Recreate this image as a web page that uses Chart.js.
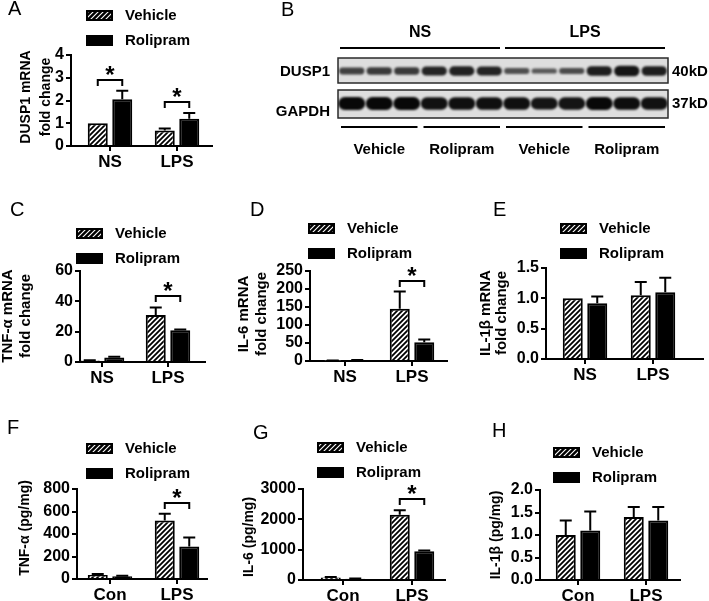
<!DOCTYPE html>
<html>
<head>
<meta charset="utf-8">
<script src="https://cdn.jsdelivr.net/npm/chart.js@4.4.1/dist/chart.umd.min.js"></script>
<style>
  body { margin: 0; background: #fff; }
  #wrap { position: relative; width: 709px; height: 601px; overflow: hidden; background: #fff; }
  canvas { position: absolute; }
</style>
</head>
<body>
<div id="wrap">
  <canvas id="chartA" width="240" height="190" style="left:0px;top:0px"></canvas>
  <canvas id="chartB" width="469" height="190" style="left:240px;top:0px"></canvas>
  <canvas id="chartC" width="240" height="210" style="left:0px;top:190px"></canvas>
  <canvas id="chartD" width="242" height="210" style="left:228px;top:190px"></canvas>
  <canvas id="chartE" width="239" height="210" style="left:470px;top:190px"></canvas>
  <canvas id="chartF" width="240" height="201" style="left:0px;top:400px"></canvas>
  <canvas id="chartG" width="230" height="201" style="left:240px;top:400px"></canvas>
  <canvas id="chartH" width="239" height="201" style="left:470px;top:400px"></canvas>
</div>
<script>
const FONT = '"Liberation Sans", Arial, sans-serif';
Chart.defaults.font.family = FONT;
Chart.defaults.color = "#000";

// ---- data ----
const seriesNames = ["Vehicle", "Rolipram"];
const mrnaGroups = ["NS", "LPS"];
const tissueGroups = ["Con", "LPS"];

// A: DUSP1 mRNA fold change
const dusp1Vehicle = [1.0, 0.68];
const dusp1VehicleErr = [0, 0.09];
const dusp1Rolipram = [2.05, 1.2];
const dusp1RolipramErr = [0.38, 0.25];
const dusp1Ticks = [0, 1, 2, 3, 4];
const dusp1Sig = [[0, 2.9], [1, 1.93]];

// B: western blot, relative band intensity per lane
const blotConditions = ["NS", "LPS"];
const blotTreatments = ["Vehicle", "Rolipram"];
const blotProteins = ["DUSP1", "GAPDH"];
const blotWeights = ["40kD", "37kD"];
const dusp1Bands = [0.55, 0.6, 0.6, 0.8, 0.82, 0.8, 0.42, 0.35, 0.45, 0.85, 0.92, 0.85];
const gapdhBands = [1, 1, 1, 0.96, 0.97, 0.97, 0.97, 0.94, 0.95, 1, 0.98, 0.96];

// C: TNF-a mRNA
const tnfMrnaVehicle = [1.0, 31];
const tnfMrnaVehicleErr = [0.2, 5];
const tnfMrnaRolipram = [3.0, 21];
const tnfMrnaRolipramErr = [0.5, 0.5];
const tnfMrnaTicks = [0, 20, 40, 60];
const tnfMrnaSig = [[1, 43.5]];

// D: IL-6 mRNA
const il6MrnaVehicle = [1.0, 145];
const il6MrnaVehicleErr = [0.3, 48];
const il6MrnaRolipram = [2.0, 52];
const il6MrnaRolipramErr = [0.5, 8];
const il6MrnaTicks = [0, 50, 100, 150, 200, 250];
const il6MrnaSig = [[1, 222]];

// E: IL-1b mRNA
const il1bMrnaVehicle = [1.0, 1.05];
const il1bMrnaVehicleErr = [0, 0.22];
const il1bMrnaRolipram = [0.92, 1.1];
const il1bMrnaRolipramErr = [0.11, 0.24];
const il1bMrnaTicks = [0, 0.5, 1.0, 1.5];

// F: TNF-a protein
const tnfVehicle = [35, 520];
const tnfVehicleErr = [10, 60];
const tnfRolipram = [25, 290];
const tnfRolipramErr = [5, 80];
const tnfTicks = [0, 200, 400, 600, 800];
const tnfSig = [[1, 676]];

// G: IL-6 protein
const il6Vehicle = [80, 2150];
const il6VehicleErr = [15, 150];
const il6Rolipram = [40, 950];
const il6RolipramErr = [10, 20];
const il6Ticks = [0, 1000, 2000, 3000];
const il6Sig = [[1, 2670]];

// H: IL-1b protein
const il1bVehicle = [1.0, 1.4];
const il1bVehicleErr = [0.32, 0.22];
const il1bRolipram = [1.1, 1.32];
const il1bRolipramErr = [0.42, 0.3];
const il1bTicks = [0, 0.5, 1.0, 1.5, 2.0];

// ---- helpers ----
function hatch(ctx, bg, fg, lw) {
  const s = 5;
  const c = document.createElement("canvas");
  c.width = s; c.height = s;
  const g = c.getContext("2d");
  g.fillStyle = bg;
  g.fillRect(0, 0, s, s);
  g.strokeStyle = fg;
  g.lineWidth = lw;
  g.beginPath();
  g.moveTo(-1, 1); g.lineTo(1, -1);
  g.moveTo(-1, s + 1); g.lineTo(s + 1, -1);
  g.moveTo(s - 1, s + 1); g.lineTo(s + 1, s - 1);
  g.stroke();
  return ctx.createPattern(c, "repeat");
}

// upward error bars with a cap
const errorBars = {
  id: "errorBars",
  afterDatasetsDraw(chart) {
    const ctx = chart.ctx;
    const y = chart.scales.y;
    chart.data.datasets.forEach((ds, di) => {
      if (!ds.errors) return;
      chart.getDatasetMeta(di).data.forEach((bar, i) => {
        const err = ds.errors[i];
        if (!err) return;
        const top = y.getPixelForValue(ds.data[i].y + err);
        ctx.save();
        ctx.strokeStyle = "#000";
        ctx.lineWidth = 2;
        ctx.beginPath();
        ctx.moveTo(bar.x, bar.y);
        ctx.lineTo(bar.x, top);
        ctx.moveTo(bar.x - 6, top);
        ctx.lineTo(bar.x + 6, top);
        ctx.stroke();
        ctx.restore();
      });
    });
  }
};

// panel letter, legend, axis title, significance brackets
const panelDeco = {
  id: "panelDeco",
  afterDraw(chart, args, opts) {
    const ctx = chart.ctx;
    const y = chart.scales.y;

    // brackets (canvas coords)
    (opts.sig || []).forEach(([group, level]) => {
      const x0 = chart.getDatasetMeta(0).data[group].x;
      const x1 = chart.getDatasetMeta(1).data[group].x;
      const yb = y.getPixelForValue(level);
      ctx.save();
      ctx.strokeStyle = "#000";
      ctx.lineWidth = 2;
      ctx.beginPath();
      ctx.moveTo(x0, yb + 6);
      ctx.lineTo(x0, yb);
      ctx.lineTo(x1, yb);
      ctx.lineTo(x1, yb + 6);
      ctx.stroke();
      ctx.fillStyle = "#000";
      ctx.font = "bold 24px " + FONT;
      ctx.textAlign = "center";
      ctx.textBaseline = "alphabetic";
      ctx.fillText("*", (x0 + x1) / 2, yb + 3);
      ctx.restore();
    });

    const [ox, oy] = opts.origin;
    ctx.save();
    ctx.translate(-ox, -oy);
    ctx.fillStyle = "#000";

    ctx.font = "20px " + FONT;
    ctx.textAlign = "left";
    ctx.textBaseline = "middle";
    ctx.fillText(opts.letter[0], opts.letter[1], opts.letter[2]);

    const [lx, ly] = opts.legend;
    chart.data.datasets.forEach((ds, i) => {
      const by = ly + i * 25;
      ctx.fillStyle = ds.legendFill || ds.backgroundColor;
      ctx.fillRect(lx, by, 27, 11);
      ctx.strokeStyle = "#000";
      ctx.lineWidth = 2;
      ctx.strokeRect(lx + 1, by + 1, 25, 9);
      ctx.fillStyle = "#000";
      ctx.font = "bold 15px " + FONT;
      ctx.textAlign = "left";
      ctx.textBaseline = "middle";
      ctx.fillText(ds.label, lx + 39, by + 6);
    });

    ctx.font = "bold " + opts.titleSize + "px " + FONT;
    ctx.textAlign = "center";
    ctx.textBaseline = "middle";
    opts.yTitle.forEach((line, i) => {
      ctx.save();
      ctx.translate(opts.titleX[i], opts.titleY);
      ctx.rotate(-Math.PI / 2);
      ctx.fillText(line, 0, 0);
      ctx.restore();
    });
    ctx.restore();
  }
};

function barPanel(p) {
  const canvas = document.getElementById(p.id);
  const ctx = canvas.getContext("2d");
  const [ox, oy] = p.origin;
  const [L, R, T, B] = p.area;
  const unit = p.groupX[1] - p.groupX[0];
  const axisStyle = {
    grid: { drawOnChartArea: false, drawTicks: true, tickLength: 5, color: "#000", lineWidth: 2, offset: false },
    border: { display: true, color: "#000", width: 2 }
  };
  const common = {
    borderColor: "#000",
    borderWidth: 2,
    categoryPercentage: 49 / unit,
    barPercentage: 20 / 24.5
  };

  return new Chart(ctx, {
    type: "bar",
    data: {
      datasets: [
        {
          ...common,
          label: seriesNames[0],
          data: p.vehicle.map((v, i) => ({ x: i, y: v })),
          errors: p.vehicleErr,
          backgroundColor: hatch(ctx, "#fff", "#000", 1.8),
          legendFill: hatch(ctx, "#000", "#fff", 1.1)
        },
        {
          ...common,
          label: seriesNames[1],
          data: p.rolipram.map((v, i) => ({ x: i, y: v })),
          errors: p.rolipramErr,
          backgroundColor: "#000"
        }
      ]
    },
    options: {
      responsive: false,
      animation: false,
      events: [],
      layout: {
        padding: { left: 0, top: T - oy, right: ox + canvas.width - R, bottom: 0 }
      },
      plugins: {
        legend: { display: false },
        tooltip: { enabled: false },
        panelDeco: {
          origin: p.origin,
          letter: p.letter,
          legend: p.legend,
          yTitle: p.yTitle,
          titleX: p.titleX,
          titleY: p.titleY,
          titleSize: p.titleSize,
          sig: p.sig
        }
      },
      scales: {
        x: {
          ...axisStyle,
          type: "linear",
          offset: false,
          min: -(p.groupX[0] - L) / unit,
          max: 1 + (R - p.groupX[1]) / unit,
          afterBuildTicks: s => { s.ticks = p.groups.map((g, i) => ({ value: i })); },
          afterFit: s => { s.height = oy + canvas.height - B; },
          ticks: {
            callback: v => p.groups[v],
            font: { size: 17, weight: "bold" },
            color: "#000",
            padding: 1,
            maxRotation: 0,
            autoSkip: false
          }
        },
        y: {
          ...axisStyle,
          min: p.ticks[0],
          max: p.ticks[p.ticks.length - 1],
          afterBuildTicks: s => { s.ticks = p.ticks.map(v => ({ value: v })); },
          afterFit: s => { s.width = L - ox; },
          ticks: {
            callback: v => v.toFixed(p.dec || 0),
            font: { size: 16, weight: "bold" },
            color: "#000",
            padding: 2,
            autoSkip: false
          }
        }
      }
    },
    plugins: [errorBars, panelDeco]
  });
}

// ---- bar panels ----
barPanel({
  id: "chartA", origin: [0, 0], area: [71, 212, 55, 146], groupX: [110, 177],
  groups: mrnaGroups, vehicle: dusp1Vehicle, vehicleErr: dusp1VehicleErr,
  rolipram: dusp1Rolipram, rolipramErr: dusp1RolipramErr, ticks: dusp1Ticks, sig: dusp1Sig,
  letter: ["A", 8, 9], legend: [86, 10],
  yTitle: ["DUSP1 mRNA", "fold change"], titleX: [26, 46], titleY: 97, titleSize: 14
});

barPanel({
  id: "chartC", origin: [0, 190], area: [80, 205, 271, 362], groupX: [102, 168],
  groups: mrnaGroups, vehicle: tnfMrnaVehicle, vehicleErr: tnfMrnaVehicleErr,
  rolipram: tnfMrnaRolipram, rolipramErr: tnfMrnaRolipramErr, ticks: tnfMrnaTicks, sig: tnfMrnaSig,
  letter: ["C", 10, 210], legend: [76, 228],
  yTitle: ["TNF-α mRNA", "fold change"], titleX: [8, 26], titleY: 316, titleSize: 15
});

barPanel({
  id: "chartD", origin: [228, 190], area: [310, 447, 271, 361], groupX: [345, 412],
  groups: mrnaGroups, vehicle: il6MrnaVehicle, vehicleErr: il6MrnaVehicleErr,
  rolipram: il6MrnaRolipram, rolipramErr: il6MrnaRolipramErr, ticks: il6MrnaTicks, sig: il6MrnaSig,
  letter: ["D", 250, 210], legend: [308, 223],
  yTitle: ["IL-6 mRNA", "fold change"], titleX: [244, 262], titleY: 314, titleSize: 15
});

barPanel({
  id: "chartE", origin: [470, 190], area: [546, 703, 268, 359], groupX: [585, 653],
  groups: mrnaGroups, vehicle: il1bMrnaVehicle, vehicleErr: il1bMrnaVehicleErr,
  rolipram: il1bMrnaRolipram, rolipramErr: il1bMrnaRolipramErr, ticks: il1bMrnaTicks, dec: 1,
  letter: ["E", 493, 210], legend: [560, 223],
  yTitle: ["IL-1β mRNA", "fold change"], titleX: [486, 502], titleY: 313, titleSize: 15
});

barPanel({
  id: "chartF", origin: [0, 400], area: [77, 207, 489, 579], groupX: [110, 177],
  groups: tissueGroups, vehicle: tnfVehicle, vehicleErr: tnfVehicleErr,
  rolipram: tnfRolipram, rolipramErr: tnfRolipramErr, ticks: tnfTicks, sig: tnfSig,
  letter: ["F", 7, 428], legend: [86, 443],
  yTitle: ["TNF-α (pg/mg)"], titleX: [25], titleY: 528, titleSize: 14
});

barPanel({
  id: "chartG", origin: [240, 400], area: [303, 445, 489, 580], groupX: [343, 412],
  groups: tissueGroups, vehicle: il6Vehicle, vehicleErr: il6VehicleErr,
  rolipram: il6Rolipram, rolipramErr: il6RolipramErr, ticks: il6Ticks, sig: il6Sig,
  letter: ["G", 253, 433], legend: [317, 442],
  yTitle: ["IL-6 (pg/mg)"], titleX: [249], titleY: 537, titleSize: 14
});

barPanel({
  id: "chartH", origin: [470, 400], area: [540, 680, 490, 580], groupX: [578, 646],
  groups: tissueGroups, vehicle: il1bVehicle, vehicleErr: il1bVehicleErr,
  rolipram: il1bRolipram, rolipramErr: il1bRolipramErr, ticks: il1bTicks, dec: 1,
  letter: ["H", 492, 431], legend: [553, 447],
  yTitle: ["IL-1β (pg/mg)"], titleX: [496], titleY: 535, titleSize: 14
});

// ---- B: western blot ----
const lanes = [];
blotConditions.forEach(c => blotTreatments.forEach(t => {
  for (let r = 1; r <= 3; r++) lanes.push(c + " " + t + " " + r);
}));

const blotRows = { dusp1: [0, 25, 13], gapdh: [32, 60, 45.5] }; // box top, box bottom, band centre (px units of y scale)

const blotDeco = {
  id: "blotDeco",
  beforeDatasetsDraw(chart) {
    const ctx = chart.ctx;
    const { left, right } = chart.chartArea;
    const y = chart.scales.y;
    ctx.save();
    [blotRows.dusp1, blotRows.gapdh].forEach(([t, b]) => {
      const y0 = y.getPixelForValue(t), y1 = y.getPixelForValue(b);
      ctx.fillStyle = "#dedede";
      ctx.fillRect(left, y0, right - left, y1 - y0);
      ctx.strokeStyle = "#2a2a2a";
      ctx.lineWidth = 1.5;
      ctx.strokeRect(left, y0, right - left, y1 - y0);
    });
    ctx.filter = "blur(1.1px)";
  },
  afterDatasetsDraw(chart) {
    chart.ctx.restore();
  },
  afterDraw(chart) {
    const ctx = chart.ctx;
    const x = chart.scales.x;
    const { left, right } = chart.chartArea;
    const half = (x.getPixelForValue(1) - x.getPixelForValue(0)) / 2;
    const edgeL = i => x.getPixelForValue(i) - half;
    const edgeR = i => x.getPixelForValue(i) + half;
    ctx.save();
    ctx.fillStyle = "#000";
    ctx.strokeStyle = "#000";
    ctx.lineWidth = 2;

    ctx.font = "20px " + FONT;
    ctx.textAlign = "left";
    ctx.textBaseline = "middle";
    ctx.fillText("B", 41, 10);

    // condition headers
    ctx.font = "bold 16px " + FONT;
    ctx.textAlign = "center";
    blotConditions.forEach((c, ci) => {
      const a = ci * 6, b = ci * 6 + 5;
      const xl = edgeL(a) + 2, xr = edgeR(b) - 3;
      ctx.fillText(c, (xl + xr) / 2, 33);
      ctx.beginPath();
      ctx.moveTo(xl, 48);
      ctx.lineTo(xr, 48);
      ctx.stroke();
    });

    // treatment labels below
    ctx.font = "bold 15px " + FONT;
    blotConditions.forEach((c, ci) => blotTreatments.forEach((t, ti) => {
      const a = ci * 6 + ti * 3, b = a + 2;
      const xl = edgeL(a) + 3, xr = edgeR(b) - 3;
      ctx.beginPath();
      ctx.moveTo(xl, 127);
      ctx.lineTo(xr, 127);
      ctx.stroke();
      ctx.fillText(t, (xl + xr) / 2, 150);
    }));

    // protein names and sizes
    ctx.textAlign = "right";
    ctx.fillText(blotProteins[0], left - 8, 72);
    ctx.fillText(blotProteins[1], left - 8, 112);
    ctx.textAlign = "left";
    ctx.fillText(blotWeights[0], right + 4, 72);
    ctx.fillText(blotWeights[1], right + 4, 104);
    ctx.restore();
  }
};

new Chart(document.getElementById("chartB").getContext("2d"), {
  type: "bar",
  data: {
    labels: lanes,
    datasets: [
      {
        label: blotProteins[0],
        data: dusp1Bands.map(v => [blotRows.dusp1[2] - (1 + 4.5 * v), blotRows.dusp1[2] + (1 + 4.5 * v)]),
        backgroundColor: dusp1Bands.map(v => "rgba(12,12,12," + (0.45 + 0.55 * v) + ")"),
        grouped: false,
        categoryPercentage: 0.92,
        barPercentage: 1,
        borderWidth: 0,
        borderRadius: 8,
        borderSkipped: false
      },
      {
        label: blotProteins[1],
        data: gapdhBands.map(v => [blotRows.gapdh[2] - 6.5 * v, blotRows.gapdh[2] + 6.5 * v]),
        backgroundColor: gapdhBands.map(v => "rgba(8,8,8," + v + ")"),
        grouped: false,
        categoryPercentage: 0.98,
        barPercentage: 1,
        borderWidth: 0,
        borderRadius: 8,
        borderSkipped: false
      }
    ]
  },
  options: {
    responsive: false,
    animation: false,
    events: [],
    layout: { padding: { left: 98, right: 41, top: 58, bottom: 72 } },
    plugins: { legend: { display: false }, tooltip: { enabled: false } },
    scales: {
      x: { display: false },
      y: { display: false, min: 0, max: 60, reverse: true }
    }
  },
  plugins: [blotDeco]
});
</script>
</body>
</html>
